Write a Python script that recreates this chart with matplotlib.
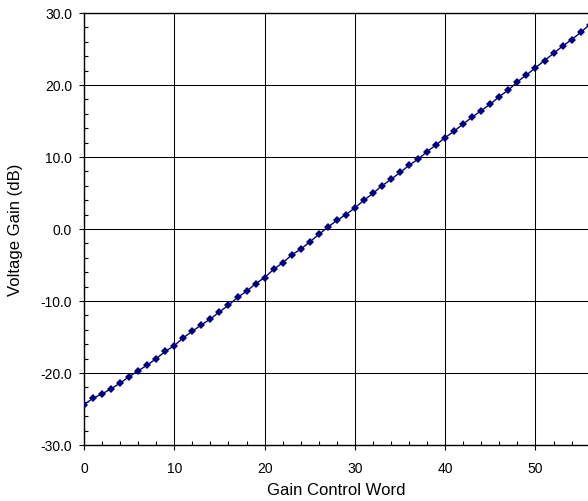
import matplotlib
matplotlib.use("Agg")
import matplotlib.pyplot as plt
from matplotlib.ticker import MultipleLocator, FormatStrFormatter

gain_word = list(range(57))
gain_db = [
    -24.4, -23.5, -22.9, -22.2, -21.4, -20.5, -19.7, -18.9, -18.0, -17.0,
    -16.2, -15.1, -14.2, -13.3, -12.5, -11.5, -10.6, -9.5, -8.65, -7.6,
    -6.75, -5.6, -4.7, -3.6, -2.8, -1.8, -0.75, 0.25, 1.2, 2.0,
    2.93, 4.0, 4.95, 6.0, 6.9, 7.85, 8.85, 9.7, 10.75, 11.7,
    12.7, 13.6, 14.6, 15.55, 16.45, 17.35, 18.4, 19.3, 20.45, 21.4,
    22.4, 23.4, 24.4, 25.4, 26.3, 27.3, 28.4,
]

plt.rcParams['font.family'] = ['Liberation Sans', 'DejaVu Sans']

fig = plt.figure(figsize=(5.88, 5.02), dpi=100)
px = 9.03  # pixels per gain step
ax = fig.add_axes([84 / 588, 1 - 446 / 502, 57 * px / 588, 432 / 502])

ax.plot(gain_word, gain_db, color='#000080', linewidth=1.0,
        marker='D', markersize=4.4, markeredgewidth=0, zorder=3)

ax.set_xlim(0, 57)
ax.set_ylim(-30, 30)

ax.xaxis.set_major_locator(MultipleLocator(10))
ax.xaxis.set_minor_locator(MultipleLocator(2))
ax.yaxis.set_major_locator(MultipleLocator(10))
ax.yaxis.set_minor_locator(MultipleLocator(2))
ax.yaxis.set_major_formatter(FormatStrFormatter('%.1f'))

ax.tick_params(which='major', direction='out', length=3.6, width=0.8,
               labelsize=10, color='black')
ax.tick_params(which='minor', direction='in', length=3, width=0.8,
               color='black')
ax.tick_params(axis='x', which='major', pad=8)
ax.tick_params(axis='y', which='major', pad=5)

ax.grid(True, which='major', color='black', linewidth=0.75)
ax.set_axisbelow(True)

for s in ax.spines.values():
    s.set_linewidth(1.0)
    s.set_color('black')

fig.text(16 / 588, 1 - 230 / 502, 'Voltage Gain (dB)', rotation=90,
         ha='center', va='center', fontsize=12)
fig.text(336 / 588, 1 - 491 / 502, 'Gain Control Word',
         ha='center', va='center', fontsize=12)

fig.savefig('out.png', dpi=100)
